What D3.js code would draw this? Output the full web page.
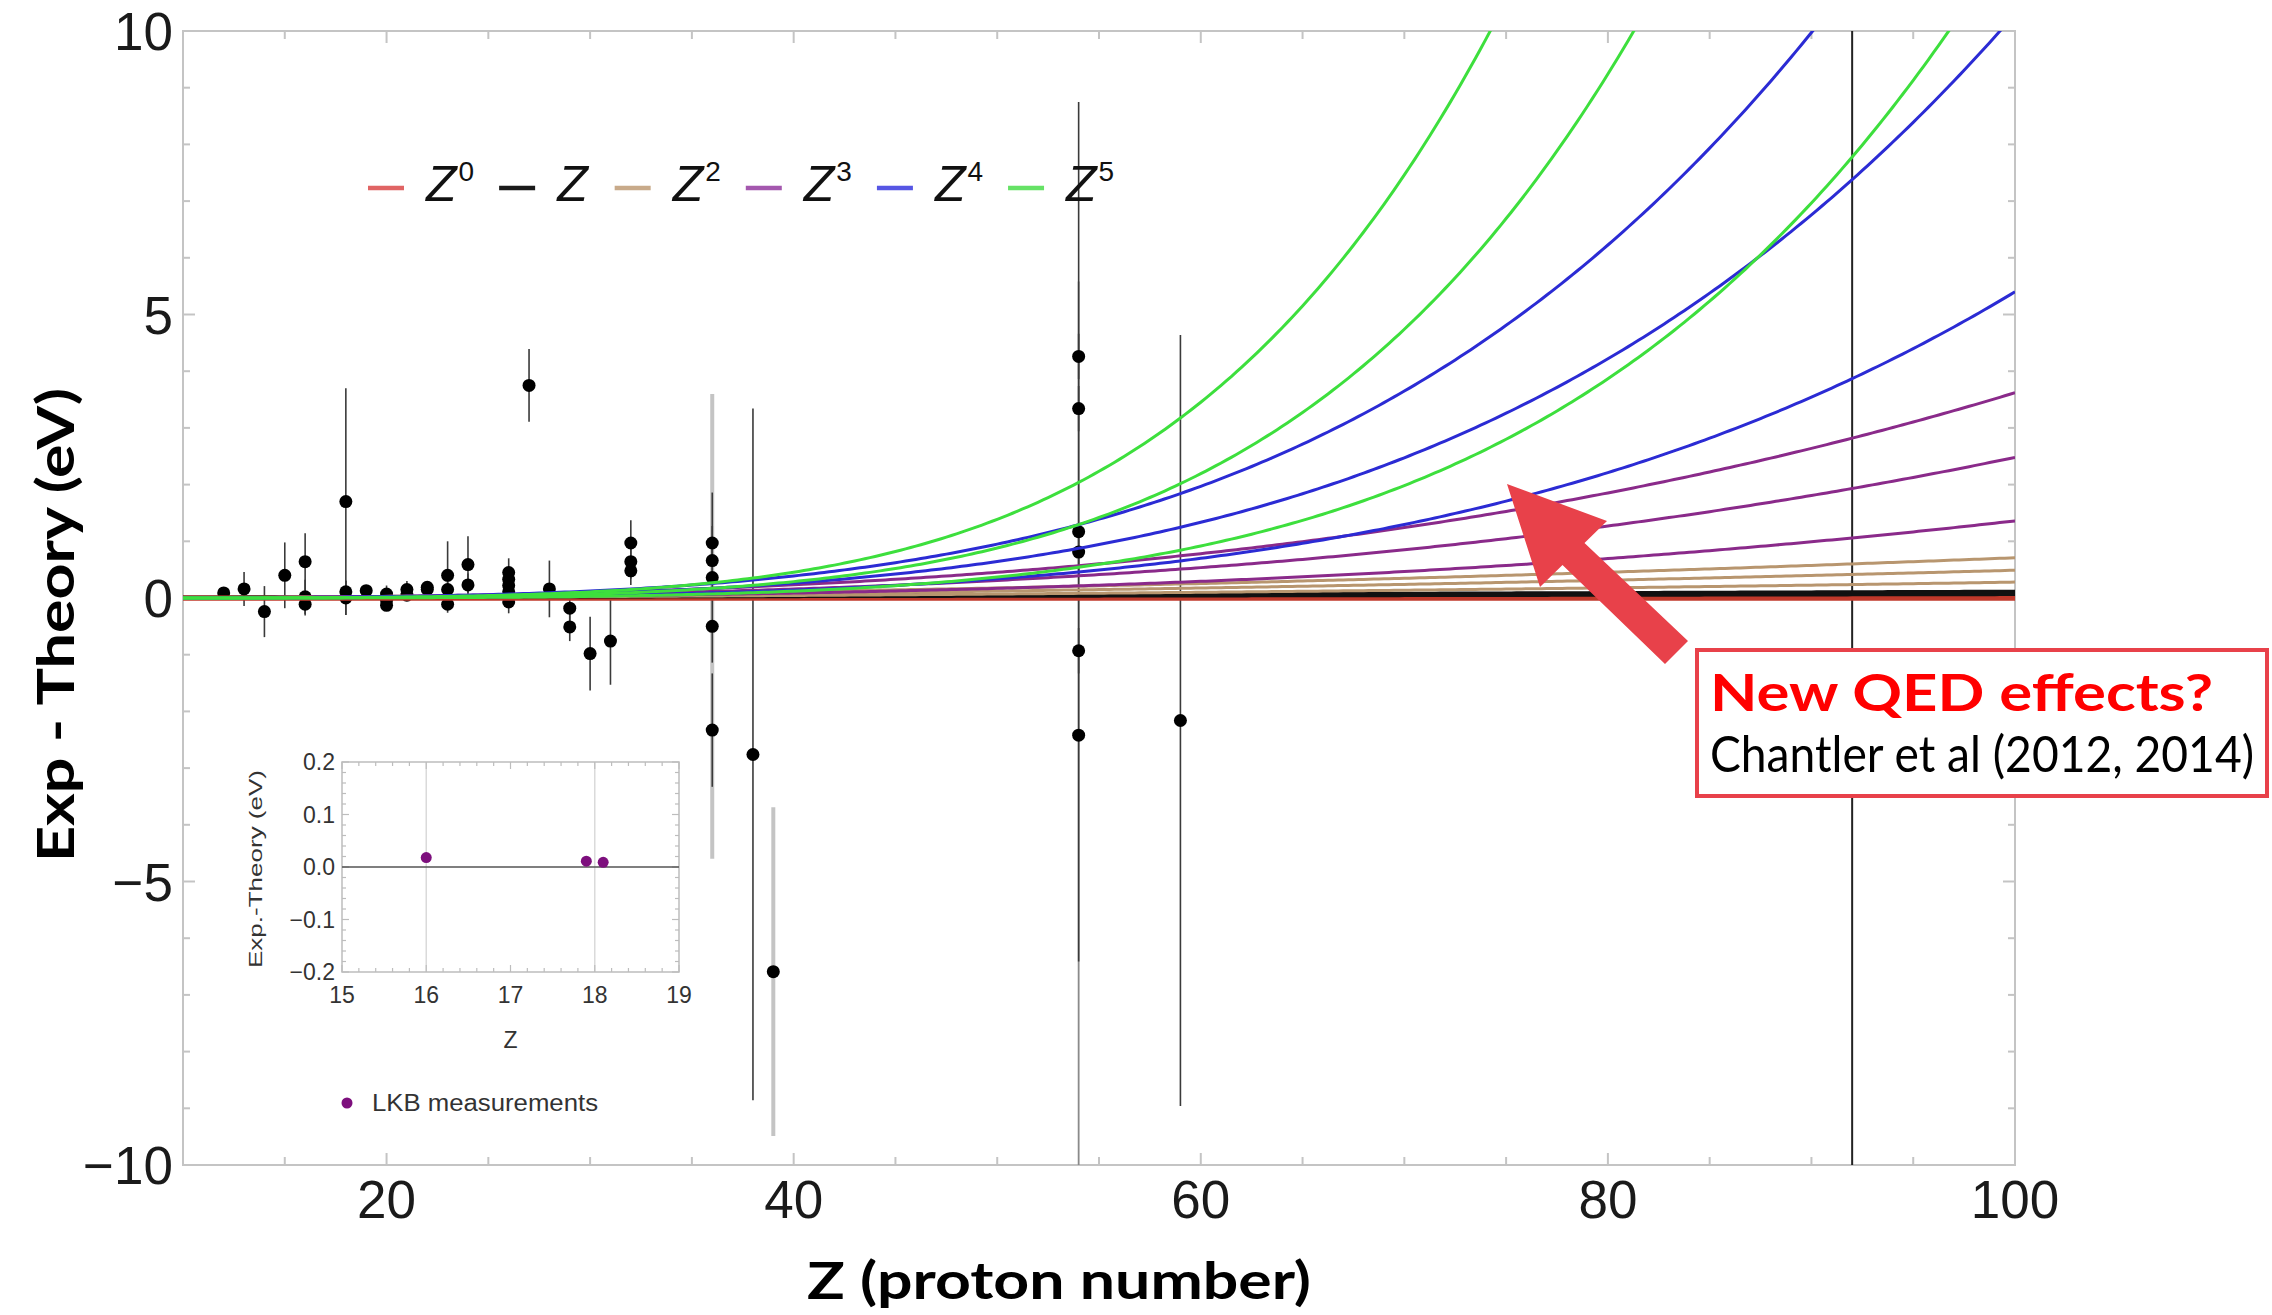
<!DOCTYPE html>
<html>
<head>
<meta charset="utf-8">
<script src="https://cdn.jsdelivr.net/npm/d3@7"></script>
<style>
  html, body { margin: 0; padding: 0; background: #fff; }
  svg { display: block; }
</style>
</head>
<body>
<svg id="chart" width="2272" height="1315"></svg>
<script>
// ---------------- DATA ----------------
// Measured points (main panel): proton number, Exp - Theory (eV), 1-sigma error, bar shade
const measZ     = [12, 13, 14, 15, 16, 16, 16, 18, 18, 18, 19, 20, 20, 20, 21, 21, 22, 22, 23, 23, 23, 24, 24,
                   26, 26, 26, 26, 26, 27, 28, 29, 29, 30, 31, 32, 32, 32, 36, 36, 36, 36, 36, 38, 39,
                   54, 54, 54, 54, 54, 54, 59, 92];
const measDelta = [0.09, 0.16, -0.24, 0.40, 0.64, 0.02, -0.11, 1.70, 0.11, 0.00, 0.13, 0.07, -0.04, -0.13, 0.15, 0.05, 0.19, 0.15, 0.40, 0.15, -0.11, 0.59, 0.23,
                   0.45, 0.33, 0.22, 0.11, -0.07, 3.75, 0.16, -0.18, -0.51, -0.98, -0.76, 0.97, 0.64, 0.48, 0.97, 0.66, 0.36, -0.50, -2.33, -2.76, -6.59,
                   4.26, 3.34, 1.17, 0.81, -0.93, -2.42, -2.16, -14.0];
const measSigma = [0.10, 0.30, 0.45, 0.58, 0.50, 0.30, 0.20, 2.00, 0.20, 0.30, 0.10, 0.15, 0.10, 0.10, 0.15, 0.10, 0.10, 0.10, 0.60, 0.20, 0.15, 0.50, 0.20,
                   0.25, 0.20, 0.20, 0.20, 0.20, 0.64, 0.50, 0.30, 0.25, 0.65, 0.77, 0.40, 0.30, 0.25, 0.30, 0.30, 1.50, 4.10, 1.00, 6.10, 2.90,
                   0.40, 0.40, 7.58, 0.40, 0.40, 8.00, 6.80, 30.0];
const measShade = ["k","k","k","k","k","k","k","k","k","k","k","k","k","k","k","k","k","k","k","k","k","k","k",
                   "k","k","k","k","k","k","k","k","k","k","k","k","k","k","k","k","k","g","k","k","g",
                   "k","k","k","k","k","m","k","k"];

// Fitted scaling curves: value (eV) reached at Z = 100 for each Z^n family (three fits each)
const curvePowers = [0, 1, 2, 3, 4, 5];
const coefZ0 = [0.02, 0.00, -0.02];
const coefZ1 = [0.12, 0.09, 0.06];
const coefZ2 = [0.71, 0.49, 0.28];
const coefZ3 = [3.62, 2.48, 1.36];
const coefZ4 = [15.2, 10.3, 5.40];
const coefZ5 = [44.4, 28.2, 11.8];
const legendSup = ["0", "", "2", "3", "4", "5"];

// Inset: LKB measurements
const lkbZ = [16.0, 17.9, 18.1];
const lkbDelta = [0.018, 0.011, 0.009];

// Tick labels
const xTickVals = [20, 40, 60, 80, 100];
const yTickVals = [10, 5, 0, -5, -10];
const insetXTicks = [15, 16, 17, 18, 19];
const insetYTicks = [0.2, 0.1, 0.0, -0.1, -0.2];

// ---------------- DRAW ----------------
const svg = d3.select("#chart");
const W = 2272, H = 1315;
svg.append("rect").attr("width", W).attr("height", H).attr("fill", "#fff");

const P = {l: 183, r: 2015, t: 31, b: 1165};
const x = d3.scaleLinear().domain([10, 100]).range([P.l, P.r]);
const y = d3.scaleLinear().domain([-10, 10]).range([P.b, P.t]);

const frameCol = "#c4c4c4";
const tickFont = "'Liberation Sans', Arial, sans-serif";

svg.append("clipPath").attr("id", "plotclip")
  .append("rect").attr("x", P.l).attr("y", P.t).attr("width", P.r - P.l).attr("height", P.b - P.t);

// frame + ticks
const frame = svg.append("g");
frame.append("rect").attr("x", P.l).attr("y", P.t).attr("width", P.r - P.l).attr("height", P.b - P.t)
  .attr("fill", "none").attr("stroke", frameCol).attr("stroke-width", 2);
const xt = d3.range(10, 100.1, 5);
xt.forEach(v => {
  const len = (v % 20 === 0) ? 12 : 8;
  frame.append("line").attr("x1", x(v)).attr("x2", x(v)).attr("y1", P.b).attr("y2", P.b - len)
    .attr("stroke", frameCol).attr("stroke-width", 2);
  frame.append("line").attr("x1", x(v)).attr("x2", x(v)).attr("y1", P.t).attr("y2", P.t + len)
    .attr("stroke", frameCol).attr("stroke-width", 2);
});
const yt = d3.range(-10, 10.1, 1);
yt.forEach(v => {
  const len = (v % 5 === 0) ? 12 : 7;
  frame.append("line").attr("x1", P.l).attr("x2", P.l + len).attr("y1", y(v)).attr("y2", y(v))
    .attr("stroke", frameCol).attr("stroke-width", 2);
  frame.append("line").attr("x1", P.r).attr("x2", P.r - len).attr("y1", y(v)).attr("y2", y(v))
    .attr("stroke", frameCol).attr("stroke-width", 2);
});

// tick labels
const fmtMinus = v => (v < 0 ? "\u2212" + Math.abs(v) : String(v));
svg.append("g").selectAll("text").data(yTickVals).join("text")
  .attr("x", P.l - 10).attr("y", d => y(d) + 19)
  .attr("text-anchor", "end").attr("font-family", tickFont).attr("font-size", 53)
  .attr("fill", "#1a1a1a").text(fmtMinus);
svg.append("g").selectAll("text").data(xTickVals).join("text")
  .attr("x", d => x(d)).attr("y", P.b + 53)
  .attr("text-anchor", "middle").attr("font-family", tickFont).attr("font-size", 53)
  .attr("fill", "#1a1a1a").text(d => d);

// axis titles
svg.append("text")
  .attr("transform", `translate(74, ${625}) rotate(-90)`)
  .attr("text-anchor", "middle").attr("font-family", "Lato, 'Open Sans', sans-serif")
  .attr("font-weight", 700).attr("font-size", 52).attr("fill", "#000")
  .attr("textLength", 474).attr("lengthAdjust", "spacingAndGlyphs")
  .text("Exp - Theory (eV)");
svg.append("text")
  .attr("x", 1059).attr("y", 1299)
  .attr("text-anchor", "middle").attr("font-family", "Lato, 'Open Sans', sans-serif")
  .attr("font-weight", 700).attr("font-size", 52).attr("fill", "#000")
  .attr("textLength", 504).attr("lengthAdjust", "spacingAndGlyphs")
  .text("Z (proton number)");

// plot content
const plot = svg.append("g").attr("clip-path", "url(#plotclip)");
const meas = measZ.map((z, i) => ({z, d: measDelta[i], s: measSigma[i], shade: measShade[i]}));

// error bars: light grey (thick), mid grey (thin), black (thin)
plot.append("g").selectAll("line").data(meas.filter(m => m.shade === "g")).join("line")
  .attr("x1", m => x(m.z)).attr("x2", m => x(m.z))
  .attr("y1", m => y(m.d + m.s)).attr("y2", m => y(m.d - m.s))
  .attr("stroke", "#c4c4c4").attr("stroke-width", 4);
plot.append("g").selectAll("line").data(meas.filter(m => m.shade === "m")).join("line")
  .attr("x1", m => x(m.z)).attr("x2", m => x(m.z))
  .attr("y1", m => y(m.d + m.s)).attr("y2", m => y(m.d - m.s))
  .attr("stroke", "#8a8a8a").attr("stroke-width", 1.8);
plot.append("g").selectAll("line").data(meas.filter(m => m.shade === "k")).join("line")
  .attr("x1", m => x(m.z)).attr("x2", m => x(m.z))
  .attr("y1", m => y(m.d + m.s)).attr("y2", m => y(m.d - m.s))
  .attr("stroke", m => m.z === 92 ? "#222" : "#3a3a3a").attr("stroke-width", m => m.z === 92 ? 2 : 1.6);
plot.append("g").selectAll("circle").data(meas).join("circle")
  .attr("cx", m => x(m.z)).attr("cy", m => y(m.d)).attr("r", 6.5).attr("fill", "#000");

// curves
const families = [coefZ0, coefZ1, coefZ2, coefZ3, coefZ4, coefZ5];
const curveCols = ["#c0392b", "#111111", "#b8966f", "#8a2a8a", "#2b2bd4", "#3ddf3d"];
const legendCols = ["#e06464", "#1a1a1a", "#c8aa8a", "#a458ae", "#5656e4", "#66e266"];
const zs = d3.range(10, 100.001, 0.25);
const line = d3.line().x(p => x(p[0])).y(p => y(p[1]));
families.forEach((coefs, fi) => {
  const n = curvePowers[fi];
  coefs.forEach(c => {
    const pts = zs.map(z => [z, c * Math.pow(z / 100, n)]);
    plot.append("path").attr("d", line(pts)).attr("fill", "none")
      .attr("stroke", curveCols[fi]).attr("stroke-width", 3);
  });
});

// legend
const leg = svg.append("g");
let lx = 368;
const ly = 201;
curvePowers.forEach((n, i) => {
  leg.append("line").attr("x1", lx).attr("x2", lx + 36).attr("y1", ly - 13).attr("y2", ly - 13)
    .attr("stroke", legendCols[i]).attr("stroke-width", 4.5);
  lx += 36 + 22;
  const t = leg.append("text").attr("x", lx).attr("y", ly)
    .attr("font-family", tickFont).attr("font-size", 50).attr("fill", "#111");
  t.append("tspan").attr("font-style", "italic").text("Z");
  if (legendSup[i] !== "") {
    t.append("tspan").attr("font-size", 28).attr("dy", -20).attr("dx", 2).text(legendSup[i]);
  }
  const w = t.node().getComputedTextLength();
  lx += w + 27;
});

// ---------------- INSET ----------------
const I = {l: 342, r: 679, t: 762, b: 972};
const ix = d3.scaleLinear().domain([15, 19]).range([I.l, I.r]);
const iy = d3.scaleLinear().domain([-0.2, 0.2]).range([I.b, I.t]);
const ins = svg.append("g");
const insCol = "#bdbdbd";
[16, 18].forEach(v => ins.append("line").attr("x1", ix(v)).attr("x2", ix(v)).attr("y1", I.t).attr("y2", I.b)
  .attr("stroke", "#dadada").attr("stroke-width", 1.5));
ins.append("rect").attr("x", I.l).attr("y", I.t).attr("width", I.r - I.l).attr("height", I.b - I.t)
  .attr("fill", "none").attr("stroke", insCol).attr("stroke-width", 1.5);
d3.range(15, 19.001, 0.2).forEach(v => {
  const major = Math.abs(v - Math.round(v)) < 1e-6;
  const len = major ? 7 : 4;
  ins.append("line").attr("x1", ix(v)).attr("x2", ix(v)).attr("y1", I.b).attr("y2", I.b - len).attr("stroke", insCol).attr("stroke-width", 1.2);
  ins.append("line").attr("x1", ix(v)).attr("x2", ix(v)).attr("y1", I.t).attr("y2", I.t + len).attr("stroke", insCol).attr("stroke-width", 1.2);
});
d3.range(-0.2, 0.2001, 0.02).forEach(v => {
  const major = Math.abs(v * 10 - Math.round(v * 10)) < 1e-6;
  const len = major ? 7 : 4;
  ins.append("line").attr("x1", I.l).attr("x2", I.l + len).attr("y1", iy(v)).attr("y2", iy(v)).attr("stroke", insCol).attr("stroke-width", 1.2);
  ins.append("line").attr("x1", I.r).attr("x2", I.r - len).attr("y1", iy(v)).attr("y2", iy(v)).attr("stroke", insCol).attr("stroke-width", 1.2);
});
ins.append("line").attr("x1", I.l).attr("x2", I.r).attr("y1", iy(0)).attr("y2", iy(0))
  .attr("stroke", "#555").attr("stroke-width", 1.6);
ins.selectAll("circle.lkb").data(lkbZ).join("circle").attr("class", "lkb")
  .attr("cx", d => ix(d)).attr("cy", (d, i) => iy(lkbDelta[i])).attr("r", 5.5).attr("fill", "#7d0f7d");
ins.append("g").selectAll("text").data(insetYTicks).join("text")
  .attr("x", I.l - 7).attr("y", d => iy(d) + 8)
  .attr("text-anchor", "end").attr("font-family", tickFont).attr("font-size", 23).attr("fill", "#333")
  .text(d => (d < 0 ? "\u2212" : "") + Math.abs(d).toFixed(1));
ins.append("g").selectAll("text").data(insetXTicks).join("text")
  .attr("x", d => ix(d)).attr("y", I.b + 31)
  .attr("text-anchor", "middle").attr("font-family", tickFont).attr("font-size", 23).attr("fill", "#333")
  .text(d => d);
ins.append("text").attr("x", ix(17)).attr("y", 1048).attr("text-anchor", "middle")
  .attr("font-family", tickFont).attr("font-size", 23).attr("fill", "#333").text("Z");
ins.append("text").attr("transform", `translate(262, ${869}) rotate(-90)`).attr("text-anchor", "middle")
  .attr("font-family", tickFont).attr("font-size", 19).attr("fill", "#333")
  .attr("textLength", 198).attr("lengthAdjust", "spacingAndGlyphs").text("Exp.-Theory (eV)");
ins.append("circle").attr("cx", 347).attr("cy", 1103).attr("r", 5.5).attr("fill", "#7d0f7d");
ins.append("text").attr("x", 372).attr("y", 1111).attr("font-family", tickFont).attr("font-size", 23)
  .attr("fill", "#333").attr("textLength", 226).attr("lengthAdjust", "spacingAndGlyphs").text("LKB measurements");

// ---------------- ANNOTATION ----------------
const arrowCol = "#e8414a";
const arrowPts = [[1507, 484], [1607, 521], [1584.5, 543], [1688, 641], [1665, 664], [1562.5, 565], [1540, 587]];
svg.append("polygon").attr("points", arrowPts.map(p => p.join(",")).join(" ")).attr("fill", arrowCol);
svg.append("rect").attr("x", 1697).attr("y", 650).attr("width", 570).attr("height", 146)
  .attr("fill", "#fff").attr("stroke", arrowCol).attr("stroke-width", 4);
svg.append("text").attr("x", 1710).attr("y", 711)
  .attr("font-family", "Lato, 'Open Sans', sans-serif").attr("font-weight", 700).attr("font-size", 52)
  .attr("fill", "#ff0000").attr("textLength", 503).attr("lengthAdjust", "spacingAndGlyphs")
  .text("New QED effects?");
svg.append("text").attr("x", 1710).attr("y", 772)
  .attr("font-family", "Lato, 'Open Sans', sans-serif").attr("font-weight", 400).attr("font-size", 50)
  .attr("fill", "#000").attr("textLength", 544).attr("lengthAdjust", "spacingAndGlyphs")
  .text("Chantler et al (2012, 2014)");
</script>
</body>
</html>
